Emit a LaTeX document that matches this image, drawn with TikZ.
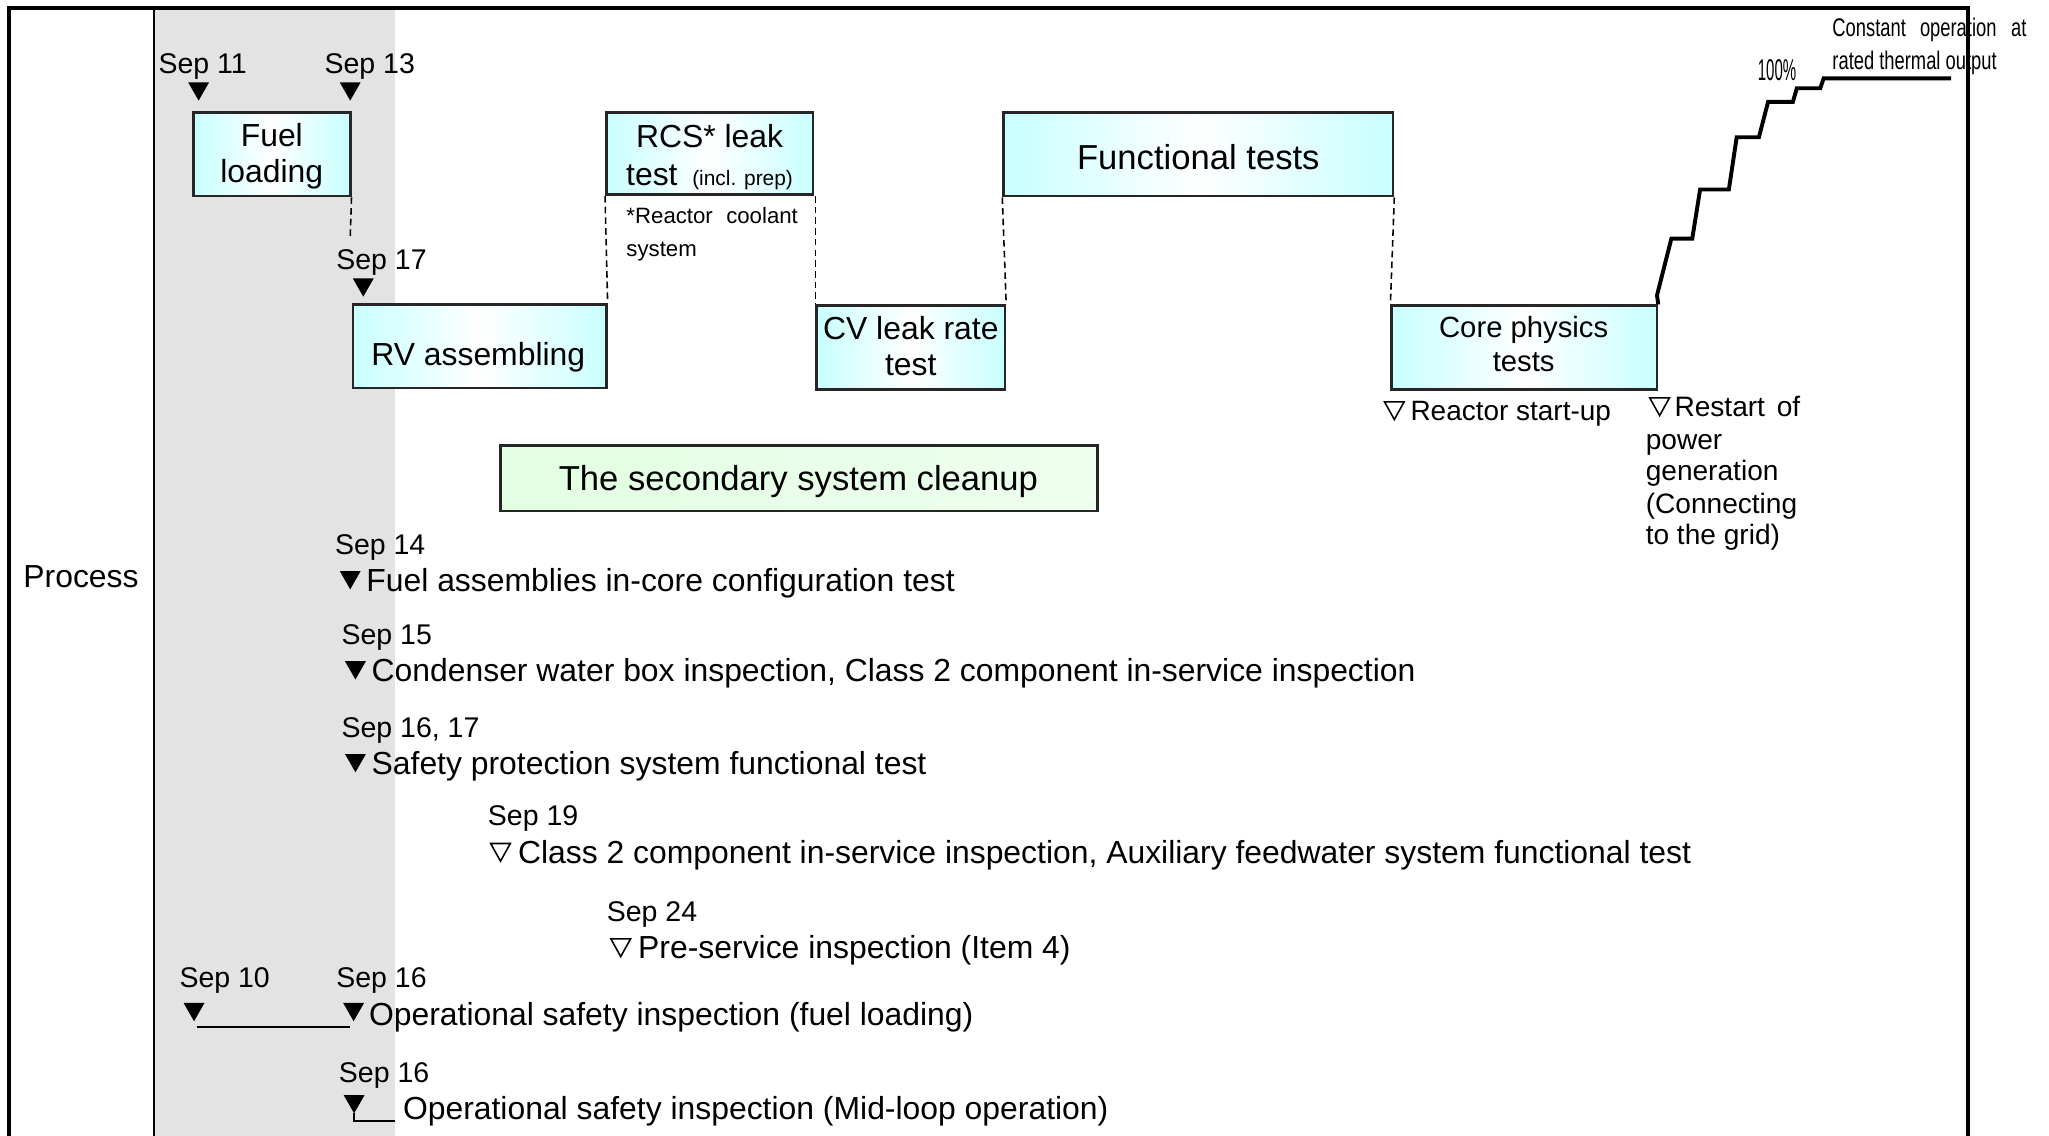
\documentclass[tikz,border=0pt]{standalone}
\usepackage{fontspec}
\setmainfont{Liberation Sans}
\definecolor{cyanbox}{RGB}{200,255,255}
\definecolor{greenbox}{RGB}{226,255,226}
\definecolor{band}{RGB}{227,227,227}
\begin{document}
\begin{tikzpicture}[x=0.5pt,y=-0.5pt,
  boxc/.style={draw=black!85, line width=1pt, left color=cyanbox, right color=cyanbox, middle color=white, inner sep=0, minimum height=32pt},
  boxg/.style={draw=black!85, line width=1pt, left color=greenbox, right color=greenbox!60!white, inner sep=0},
  dashln/.style={line width=0.6pt, dash pattern=on 2.5pt off 1.6pt},
  lab/.style={inner sep=0, anchor=base west, font=\fontsize{10.9}{13}\selectfont},
  main/.style={inner sep=0, anchor=base west, font=\fontsize{12.2}{14}\selectfont},
  intxt/.style={inner sep=0, align=center, font=\fontsize{12.2}{14}\selectfont},
  small/.style={inner sep=0, anchor=base west, font=\fontsize{8.5}{10}\selectfont},
  note/.style={inner sep=0, anchor=base west, font=\fontsize{10.75}{12}\selectfont},
  narrow/.style={inner sep=0, anchor=base west, font=\fontsize{9.75}{11}\selectfont, xscale=0.72},
  ftri/.pic={\fill (-8,-7) -- (8,-7) -- (0,7) -- cycle;},
  otri/.pic={\draw[line width=0.6pt] (-7.5,-6.5) -- (7.5,-6.5) -- (0,7) -- cycle;}
]
\useasboundingbox (0,0) rectangle (1568,869);
% grey band
\fill[band] (118,6) rectangle (302,869);
\draw[line width=0.8pt] (118,6) -- (118,869);

\node[inner sep=0, anchor=base, font=\fontsize{12.2}{14}\selectfont] (process) at (62,449.8) {Process};

% boxes
\node[boxc, minimum width=60pt] (fuel) at (208,118) {};
\node[boxc, minimum width=79pt, minimum height=31.5pt] (rcs) at (543,117.5) {};
\node[boxc, minimum width=97pt] (rv) at (367,265) {};
\node[boxc, minimum width=72pt] (cv) at (697,266) {};
\node[boxc, minimum width=149pt] (func) at (917,118) {};
\node[boxc, minimum width=101.5pt] (core) at (1166.5,266) {};
\node[boxg, minimum width=228.5pt, minimum height=25pt] (green) at (611.5,366) {};

\node[intxt] (fueltxt) at (208,119.5) {Fuel\\loading};
\node[intxt, font=\fontsize{12.2}{14.5}\selectfont] (rcstxt) at (543,120) {RCS* leak\\test {\fontsize{8}{9}\selectfont\ (incl. prep)}};
\node[intxt] (rvtxt) at (366,273.5) {RV assembling};
\node[intxt] (cvtxt) at (697,265) {CV leak rate\\test};
\node[intxt, font=\fontsize{13.25}{15}\selectfont] (functxt) at (917,120) {Functional tests};
\node[intxt, font=\fontsize{11.2}{13}\selectfont] (coretxt) at (1166,263) {Core physics\\tests};
\node[intxt, font=\fontsize{13.25}{15}\selectfont] (greentxt) at (611,368.5) {The secondary system cleanup};

% dashed connectors
\coordinate (d17) at (268,182);
\draw[dashln] (fuel.south east) -- (d17);
\draw[dashln] (rcs.south west) -- (rv.north east);
\draw[dashln] (cv.north west |- rcs.south) -- (cv.north west);
\draw[dashln] (func.south west) -- (cv.north east);
\draw[dashln] (func.south east) -- (core.north west);

% top dates
\node[lab] (s11) at (121,56) {Sep 11};
\node[lab] (s13) at (248,56) {Sep 13};
\node[lab] (s17) at (257,206) {Sep 17};
\pic at (152,70) {ftri};
\pic at (268,70) {ftri};
\pic at (278,220) {ftri};

% RCS note
\node[small] (rn1) at (479,171) {*Reactor};
\node[small, anchor=base east] (rn2) at (611,171) {coolant};
\node[small] (rn3) at (479,196) {system};

% core physics notes
\pic at (1067,314) {otri};
\node[note, font=\fontsize{10.7}{12}\selectfont] (rsu) at (1079,321.7) {Reactor start-up};
\pic at (1270,311) {otri};
\node[note] (rp1) at (1281,318.7) {Restart};
\node[note, anchor=base east] (rp2) at (1378,318.7) {of};
\node[note] (rp3) at (1259,343.7) {power};
\node[note] (rp4) at (1259,367.7) {generation};
\node[note] (rp5) at (1259,392.7) {(Connecting};
\node[note] (rp6) at (1259,416.7) {to the grid)};

% power curve
\coordinate (pend) at (1493,60);
\draw[line width=1.5pt, line join=miter] (core.north east) -- (1268,226) -- (1279,182.6) -- (1295,182.6) -- (1301,145) -- (1323,145) -- (1329,105) -- (1346,105) -- (1353,78) -- (1372,78) -- (1375,67.5) -- (1393,67.5) -- (1395.5,60) -- (pend);
\node[inner sep=0, anchor=base west, font=\fontsize{11.5}{13}\selectfont, xscale=0.5] (pct) at (1345,61.5) {100\%};
\node[narrow] (co1) at (1402,28) {Constant};
\node[narrow] (co2) at (1469,28) {operation};
\node[narrow, anchor=base east] (co3) at (1551,28) {at};
\node[narrow] (co4) at (1402,53) {rated thermal output};

% list
\node[lab] (s14) at (256,424) {Sep 14};
\pic at (268,444) {ftri};
\node[main] (i14) at (280,452.8) {Fuel assemblies in-core configuration test};

\node[lab] (s15) at (261,493) {Sep 15};
\pic at (272,513) {ftri};
\node[main] (i15) at (284,521.8) {Condenser water box inspection, Class 2 component in-service inspection};

\node[lab] (s1617) at (261,564) {Sep 16, 17};
\pic at (272,584) {ftri};
\node[main] (i1617) at (284,592.8) {Safety protection system functional test};

\node[lab] (s19) at (373,632) {Sep 19};
\pic at (383,652) {otri};
\node[main] (i19) at (396,660.8) {Class 2 component in-service inspection, Auxiliary feedwater system functional test};

\node[lab] (s24) at (464,705) {Sep 24};
\pic at (475,725) {otri};
\node[main] (i24) at (488,733.8) {Pre-service inspection (Item 4)};

\node[lab] (s10) at (137,756) {Sep 10};
\node[lab] (s16a) at (257,756) {Sep 16};
\pic at (148.5,774.5) {ftri};
\pic at (270.6,774.5) {ftri};
\coordinate (ul1) at (151,786);
\coordinate (ul2) at (268,786);
\draw[line width=0.8pt] (ul1) -- (ul2);
\node[main] (i16a) at (282,784.8) {Operational safety inspection (fuel loading)};

\node[lab] (s16b) at (259,828) {Sep 16};
\pic at (271,845) {ftri};
\coordinate (ml1) at (271,852);
\coordinate (ml2) at (271,858);
\coordinate (ml3) at (302,858);
\draw[line width=0.8pt] (ml1) -- (ml2) -- (ml3);
\node[main] (i16b) at (308,856.8) {Operational safety inspection (Mid-loop operation)};

% frame
\draw[line width=1.5pt] (7,869) -- (7,6) -- (1506,6) -- (1506,869);
\end{tikzpicture}
\end{document}
